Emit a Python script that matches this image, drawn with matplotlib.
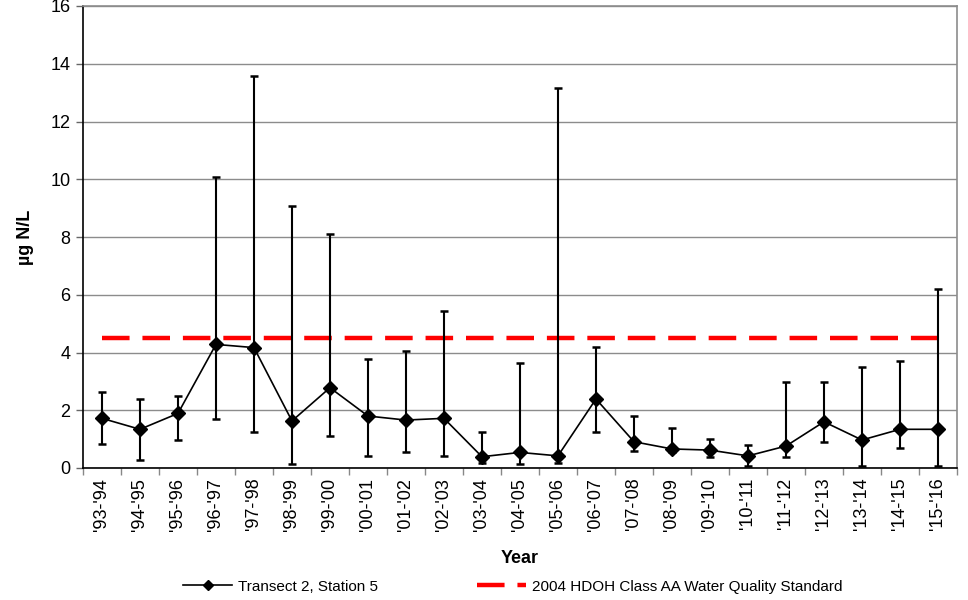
import matplotlib
matplotlib.use("Agg")
import matplotlib.pyplot as plt
from matplotlib.ticker import FixedLocator, NullFormatter

plt.rcParams["font.family"] = ["Liberation Sans", "DejaVu Sans"]

years = ["'93-'94", "'94-'95", "'95-'96", "'96-'97", "'97-'98", "'98-'99",
         "'99-'00", "'00-'01", "'01-'02", "'02-'03", "'03-'04", "'04-'05",
         "'05-'06", "'06-'07", "'07-'08", "'08-'09", "'09-'10", "'10-'11",
         "'11-'12", "'12-'13", "'13-'14", "'14-'15", "'15-'16"]
mean_vals = [1.72, 1.34, 1.89, 4.28, 4.17, 1.63, 2.78, 1.80, 1.66, 1.72,
             0.39, 0.54, 0.42, 2.39, 0.91, 0.66, 0.62, 0.42, 0.76, 1.60,
             0.97, 1.34, 1.34]
upper_vals = [2.64, 2.38, 2.50, 10.08, 13.58, 9.08, 8.09, 3.77, 4.05, 5.45,
              1.25, 3.64, 13.16, 4.19, 1.79, 1.40, 0.99, 0.79, 2.99, 2.99,
              3.49, 3.69, 6.19]
lower_vals = [0.83, 0.28, 0.97, 1.69, 1.25, 0.14, 1.12, 0.42, 0.55, 0.42,
              0.16, 0.14, 0.16, 1.25, 0.60, 0.55, 0.39, 0.08, 0.39, 0.89,
              0.08, 0.68, 0.08]
standard = 4.5

x = list(range(len(years)))
err_lo = [m - lo for m, lo in zip(mean_vals, lower_vals)]
err_hi = [hi - m for m, hi in zip(mean_vals, upper_vals)]

fig = plt.figure(figsize=(9.68, 6.0), dpi=100)
ax = fig.add_axes([0.0857, 0.22, 0.9029, 0.77])

# grid
ax.set_ylim(0, 16)
ax.set_yticks(range(0, 17, 2))
ax.yaxis.grid(True, color="#8c8c8c", linewidth=1.0)
ax.set_axisbelow(True)

# standard line
std_line, = ax.plot([x[0], x[-1]], [standard, standard], color="#ff0000",
                    linewidth=3.2, dashes=(6.2, 2.9), solid_capstyle="butt",
                    dash_capstyle="butt", zorder=2)

# error bars
ax.errorbar(x, mean_vals, yerr=[err_lo, err_hi], fmt="none", ecolor="black",
            elinewidth=1.5, capsize=3, capthick=1.8, zorder=3)
data_line, = ax.plot(x, mean_vals, color="black", linewidth=1.2, marker="D",
                     markersize=7.5, markerfacecolor="black",
                     markeredgecolor="black", zorder=4)

ax.set_xlim(-0.5, len(years) - 0.5)
ax.set_xticks(x)
ax.set_xticklabels(years, rotation=90, fontsize=13)
ax.tick_params(axis="x", which="major", length=0, pad=7)
ax.xaxis.set_minor_locator(FixedLocator([i - 0.5 for i in range(len(years) + 1)]))
ax.xaxis.set_minor_formatter(NullFormatter())
ax.tick_params(axis="x", which="minor", length=5, width=1, color="#888888")
ax.tick_params(axis="y", labelsize=13, length=5, width=1, color="#666666", pad=4)

for side in ["left", "bottom"]:
    ax.spines[side].set_color("black")
    ax.spines[side].set_linewidth(1.2)
for side in ["top", "right"]:
    ax.spines[side].set_color("#8c8c8c")
    ax.spines[side].set_linewidth(1.2)

ax.set_xlabel("Year", fontsize=13, fontweight="bold", labelpad=14)
ax.set_ylabel("µg N/L", fontsize=13, fontweight="bold", labelpad=12)

fig.legend([data_line, std_line],
           ["Transect 2, Station 5", "2004 HDOH Class AA Water Quality Standard"],
           loc="center", bbox_to_anchor=(0.530, 0.022), ncol=2, frameon=False,
           fontsize=11, handlelength=3.2, columnspacing=6.5, handletextpad=0.4,
           markerscale=0.7)

fig.savefig("out.png", dpi=100)
